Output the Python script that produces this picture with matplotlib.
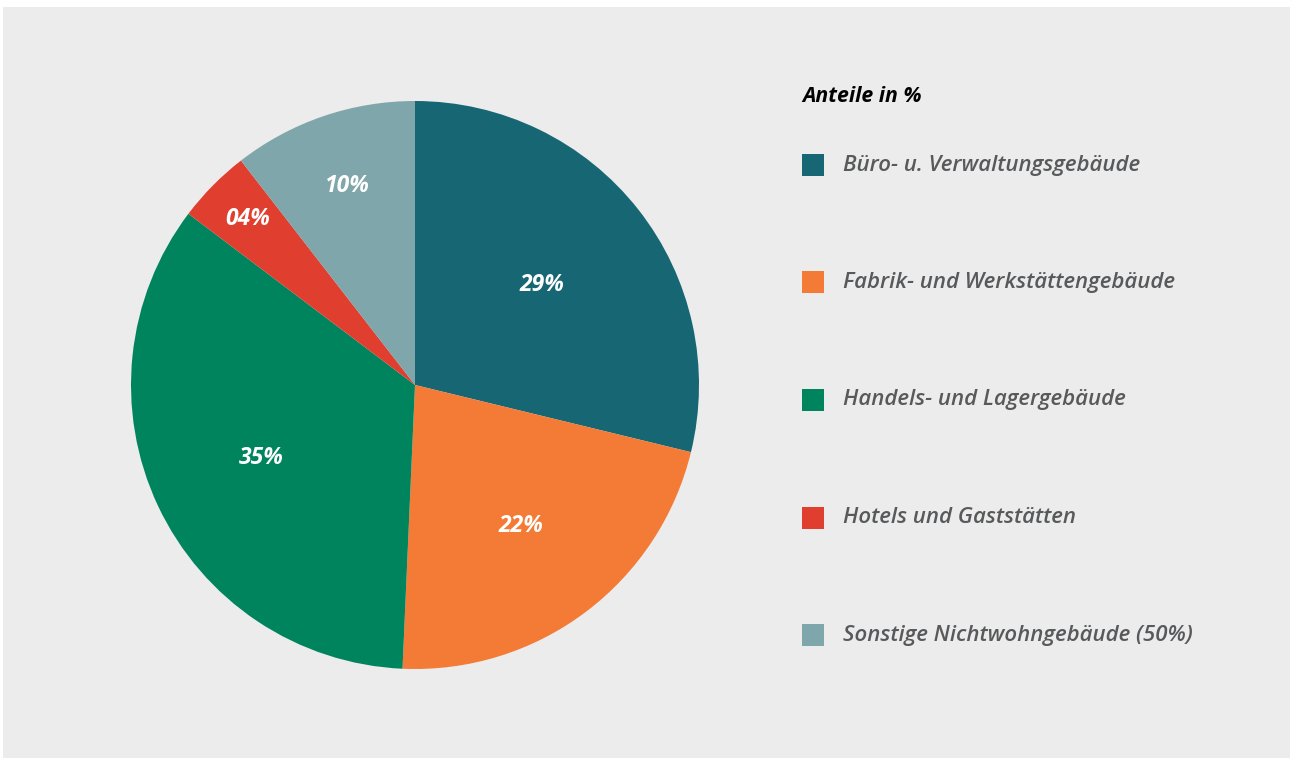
import matplotlib
matplotlib.use("Agg")
import numpy as np
import matplotlib.pyplot as plt
from matplotlib.patches import Rectangle

categories = [
    "Büro- u. Verwaltungsgebäude",
    "Fabrik- und Werkstättengebäude",
    "Handels- und Lagergebäude",
    "Hotels und Gaststätten",
    "Sonstige Nichtwohngebäude (50%)",
]
# shares in % (labels show them rounded)
shares = [28.8, 21.9, 34.6, 4.2, 10.5]
colors = ["#176673", "#F47B36", "#00845E", "#E03F30", "#7FA6AA"]

# distance of each percent label from the centre (fraction of radius)
label_dist = [0.57, 0.62, 0.60, 0.83, 0.74]

FONT = "Open Sans"
W, H = 1290, 758

fig = plt.figure(figsize=(W / 100, H / 100), dpi=100)
fig.patch.set_facecolor("white")

# grey panel (behind everything)
fig.patches.append(Rectangle((3 / W, 0), 1 - 3 / W, 1 - 7 / H,
                             transform=fig.transFigure, facecolor="#ECECEC",
                             edgecolor="none", zorder=-10))

cx, cy, r = 415, 385, 284
ax = fig.add_axes([(cx - r) / W, (H - cy - r) / H, 2 * r / W, 2 * r / H])
ax.set_zorder(1)
ax.set_facecolor("none")
wedges, _ = ax.pie(shares, colors=colors, startangle=90, counterclock=False,
                   radius=1, wedgeprops=dict(linewidth=0))
ax.set_xlim(-1, 1)
ax.set_ylim(-1, 1)
ax.set_aspect("equal")
ax.axis("off")

for w, val, d in zip(wedges, shares, label_dist):
    ang = np.deg2rad((w.theta1 + w.theta2) / 2)
    ax.text(d * np.cos(ang), d * np.sin(ang), f"{int(round(val)):02d}%",
            ha="center", va="center", color="white", fontsize=16.5,
            fontfamily=FONT, fontweight="bold", fontstyle="italic")

# legend
fig.text(802 / W, 1 - 96 / H, "Anteile in %", ha="left", va="center",
         fontsize=15.3, fontfamily=FONT, fontweight="bold", fontstyle="italic",
         color="black")
for i, (name, col) in enumerate(zip(categories, colors)):
    y = 165 + i * 117.5
    fig.patches.append(Rectangle((802 / W, 1 - (y + 11) / H), 22 / W, 22 / H,
                                 transform=fig.transFigure, facecolor=col,
                                 edgecolor="none", zorder=2))
    fig.text(843 / W, 1 - y / H, name, ha="left", va="center", fontsize=16,
             fontfamily=FONT, fontweight="semibold", fontstyle="italic",
             color="#58595B")

fig.savefig("out.png", dpi=100)
